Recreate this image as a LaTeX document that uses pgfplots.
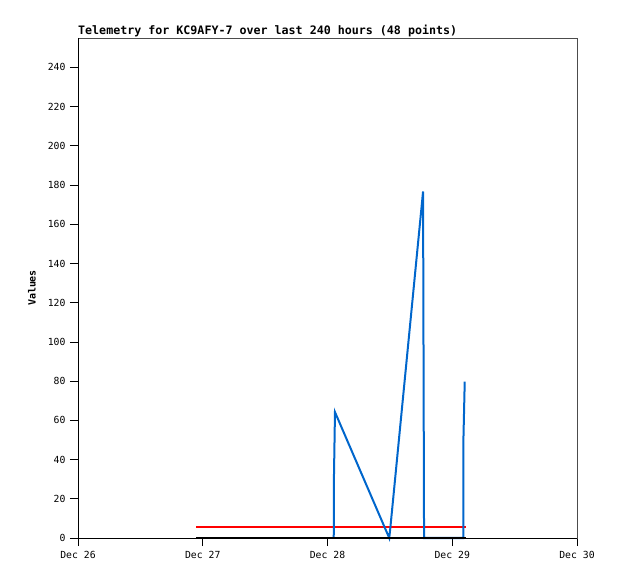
\documentclass[border=0pt]{standalone}
\usepackage{pgfplots}
\pgfplotsset{compat=1.18}
\usepackage{fontspec}
\setmainfont{DejaVu Sans Mono}
\setmonofont{DejaVu Sans Mono}
\definecolor{tblue}{HTML}{0066CC}
\begin{document}
\begin{tikzpicture}
\useasboundingbox (-78bp,-41bp) rectangle (540bp,538bp);
\begin{axis}[at={(0,0)}, anchor=south west, scale only axis,
  width=499bp, height=500bp,
  xmin=0, xmax=4, ymin=0, ymax=255,
  xtick={0,1,2,3,4},
  xticklabels={Dec 26,Dec 27,Dec 28,Dec 29,Dec 30},
  ytick={0,20,...,240},
  tick align=outside, major tick length=8bp,
  xtick pos=lower, ytick pos=left,
  tick style={black, line width=0.8bp},
  axis line style={black!70, line width=0.9bp},
  ticklabel style={font=\fontsize{9.8}{12}\selectfont},
  xticklabel style={yshift=-2bp},
  yticklabel style={xshift=-1bp},
  /pgf/number format/assume math mode=true,
  clip=false,
]
\draw[black, line width=0.9bp] (rel axis cs:0,1) -- (rel axis cs:0,0) -- (rel axis cs:1,0);
\addplot[red, line width=2bp] coordinates {(0.946,5.8) (3.11,5.8)};
\addplot[tblue, line width=2bp] coordinates {
 (2.050,0) (2.052,32.2) (2.060,64.2) (2.495,0) (2.505,6)
 (2.766,176.7) (2.774,0) (3.089,0) (3.089,48.7) (3.100,79.8)};
\addplot[black, line width=1.8bp] coordinates {(0.946,0) (3.11,0)};
\node[anchor=base west, font=\bfseries\fontsize{11.7}{14}\selectfont, inner sep=0pt, yshift=3.5bp]
  at (rel axis cs:0,1) {Telemetry for KC9AFY-7 over last 240 hours (48 points)};
\node[xshift=-46bp, rotate=90, font=\bfseries\fontsize{10}{12}\selectfont, inner sep=0pt]
  at (rel axis cs:0,0.5) {Values};
\end{axis}
\end{tikzpicture}
\end{document}
